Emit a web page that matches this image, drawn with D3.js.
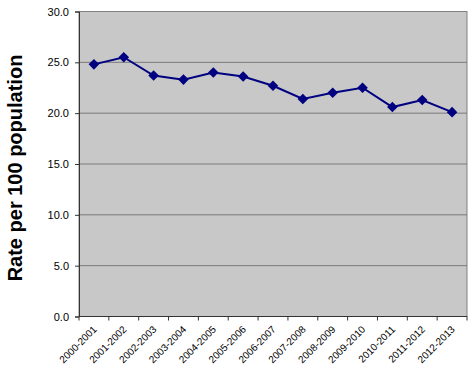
<!DOCTYPE html>
<html>
<head>
<meta charset="utf-8">
<script src="https://cdn.jsdelivr.net/npm/d3@7"></script>
<style>
body { margin: 0; background: #fff; }
svg { display: block; font-family: "Liberation Sans", Arial, sans-serif; }
</style>
</head>
<body>
<div id="chart"></div>
<script>
// data
const YEARS = ["2000-2001", "2001-2002", "2002-2003", "2003-2004", "2004-2005", "2005-2006",
               "2006-2007", "2007-2008", "2008-2009", "2009-2010", "2010-2011", "2011-2012", "2012-2013"];
const RATES = [24.8, 25.5, 23.7, 23.3, 24.0, 23.6, 22.7, 21.4, 22.0, 22.5, 20.6, 21.3, 20.1];
const Y_TICKS = [0, 5, 10, 15, 20, 25, 30];

const FRAME_WIDTH = 474;
const FRAME_HEIGHT = 372;
const MARGINS = {left: 79, right: 7, top: 11.5, bottom: 55.5};
const VIS_WIDTH = FRAME_WIDTH - MARGINS.left - MARGINS.right;
const VIS_HEIGHT = FRAME_HEIGHT - MARGINS.top - MARGINS.bottom;

const svg = d3.select("#chart")
              .append("svg")
                .attr("width", FRAME_WIDTH)
                .attr("height", FRAME_HEIGHT);

const X_SCALE = d3.scaleBand().domain(YEARS).range([0, VIS_WIDTH]);
const Y_SCALE = d3.scaleLinear().domain([0, 30]).range([VIS_HEIGHT, 0]);

const g = svg.append("g")
             .attr("transform", "translate(" + MARGINS.left + "," + MARGINS.top + ")");

// plot background
g.append("rect")
   .attr("x", 0).attr("y", 0)
   .attr("width", VIS_WIDTH).attr("height", VIS_HEIGHT)
   .attr("fill", "#c8c8c8")
   .attr("stroke", "#808080")
   .attr("stroke-width", 1);

// gridlines
g.selectAll(".grid")
   .data(Y_TICKS.filter((d) => d > 0 && d < 30))
   .enter()
   .append("line")
     .attr("x1", 0).attr("x2", VIS_WIDTH)
     .attr("y1", (d) => Y_SCALE(d)).attr("y2", (d) => Y_SCALE(d))
     .attr("stroke", "#7a7a7a")
     .attr("stroke-width", 1);

// y axis
const yAxis = g.append("g")
   .call(d3.axisLeft(Y_SCALE).tickValues(Y_TICKS).tickFormat(d3.format(".1f")).tickSize(4).tickPadding(6));
yAxis.select(".domain").attr("stroke", "#333");
yAxis.selectAll(".tick line").attr("stroke", "#333");
yAxis.selectAll("text").attr("font-size", "11px").attr("fill", "#000")
   .attr("font-family", "'Liberation Sans', Arial, sans-serif");

// x axis with ticks at category boundaries
const xAxis = g.append("g")
   .attr("transform", "translate(0," + VIS_HEIGHT + ")");
xAxis.append("line")
   .attr("x1", 0).attr("x2", VIS_WIDTH)
   .attr("stroke", "#333");
xAxis.selectAll(".bound")
   .data(d3.range(YEARS.length + 1))
   .enter()
   .append("line")
     .attr("x1", (i) => i * X_SCALE.step()).attr("x2", (i) => i * X_SCALE.step())
     .attr("y1", 0).attr("y2", 4)
     .attr("stroke", "#333");
xAxis.selectAll(".xlabel")
   .data(YEARS)
   .enter()
   .append("text")
     .attr("transform", (d) => "translate(" + (X_SCALE(d) + X_SCALE.bandwidth() / 2 + 1) + ",11) rotate(-45)")
     .attr("text-anchor", "end")
     .attr("dy", "0.35em")
     .attr("font-size", "10px")
     .attr("fill", "#000")
     .text((d) => d);

// line
const line = d3.line()
   .x((d, i) => X_SCALE(YEARS[i]) + X_SCALE.bandwidth() / 2)
   .y((d) => Y_SCALE(d));

g.append("path")
   .datum(RATES)
   .attr("d", line)
   .attr("fill", "none")
   .attr("stroke", "#000080")
   .attr("stroke-width", 2);

// diamond markers
g.selectAll(".point")
   .data(RATES)
   .enter()
   .append("path")
     .attr("d", d3.symbol().type(d3.symbolSquare).size(56))
     .attr("transform", (d, i) => "translate(" + (X_SCALE(YEARS[i]) + X_SCALE.bandwidth() / 2) + "," + Y_SCALE(d) + ") rotate(45)")
     .attr("fill", "#000080");

// y axis title
svg.append("text")
   .attr("transform", "translate(22," + (MARGINS.top + VIS_HEIGHT / 2 + 4) + ") rotate(-90)")
   .attr("text-anchor", "middle")
   .attr("font-size", "20px")
   .attr("font-weight", "bold")
   .attr("fill", "#000")
   .text("Rate per 100 population");
</script>
</body>
</html>
